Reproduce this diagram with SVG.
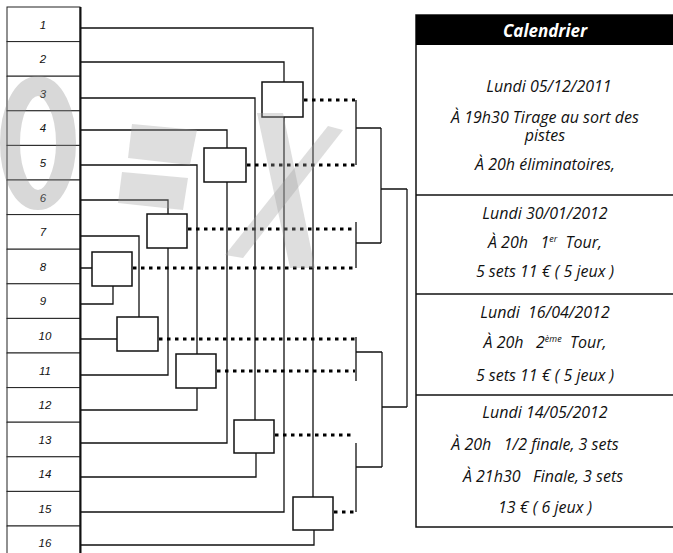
<svg xmlns="http://www.w3.org/2000/svg" width="673" height="553" viewBox="0 0 673 553">
<style>
.cell{fill:#fff;stroke:#222;stroke-width:1}
.num{font-family:"Liberation Sans",Arial,sans-serif;font-style:italic;font-size:11.5px;fill:#111;text-anchor:middle}
.ln{fill:none;stroke:#111;stroke-width:1.3}
.box{fill:#fff;stroke:#111;stroke-width:1.5}
.dot{fill:none;stroke:#000;stroke-width:3.2;stroke-dasharray:3.5 4.5}
.cal{font-family:"Open Sans",Lato,sans-serif;font-style:italic;font-size:16px;fill:#111;text-anchor:middle;white-space:pre}
.sup{font-size:9px}
.wm{fill:#a0a0a0;opacity:0.35}
</style>
<g id="players">
<rect class="cell" x="7" y="7" width="73" height="34.6"/>
<rect class="cell" x="7" y="41.6" width="73" height="34.6"/>
<rect class="cell" x="7" y="76.2" width="73" height="34.6"/>
<rect class="cell" x="7" y="110.8" width="73" height="34.6"/>
<rect class="cell" x="7" y="145.4" width="73" height="34.6"/>
<rect class="cell" x="7" y="180" width="73" height="34.6"/>
<rect class="cell" x="7" y="214.6" width="73" height="34.6"/>
<rect class="cell" x="7" y="249.2" width="73" height="34.6"/>
<rect class="cell" x="7" y="283.8" width="73" height="34.6"/>
<rect class="cell" x="7" y="318.4" width="73" height="34.6"/>
<rect class="cell" x="7" y="353" width="73" height="34.6"/>
<rect class="cell" x="7" y="387.6" width="73" height="34.6"/>
<rect class="cell" x="7" y="422.2" width="73" height="34.6"/>
<rect class="cell" x="7" y="456.8" width="73" height="34.6"/>
<rect class="cell" x="7" y="491.4" width="73" height="34.6"/>
<rect class="cell" x="7" y="526" width="73" height="34.6"/>
<line x1="80.5" y1="7" x2="80.5" y2="553" stroke="#111" stroke-width="2"/>
<text class="num" x="43" y="29">1</text>
<text class="num" x="43" y="63">2</text>
<text class="num" x="43" y="98">3</text>
<text class="num" x="43" y="132">4</text>
<text class="num" x="43" y="167">5</text>
<text class="num" x="43" y="202">6</text>
<text class="num" x="43" y="236">7</text>
<text class="num" x="43" y="271">8</text>
<text class="num" x="43" y="305">9</text>
<text class="num" x="45" y="340">10</text>
<text class="num" x="45" y="375">11</text>
<text class="num" x="45" y="409">12</text>
<text class="num" x="45" y="444">13</text>
<text class="num" x="45" y="478">14</text>
<text class="num" x="45" y="513">15</text>
<text class="num" x="45" y="547">16</text>
</g>
<g id="connectors">
<path class="ln" d="M81,28 H313 V497 M314,530 V545 H81"/>
<path class="ln" d="M81,62 H284 V82 M284,117 V512 H81"/>
<path class="ln" d="M81,98 H255 V420 M256,453 V477 H81"/>
<path class="ln" d="M81,130 H227 V148 M227,182 V443 H81"/>
<path class="ln" d="M81,165 H197 V354 M197,388 V410 H81"/>
<path class="ln" d="M81,200 H168 V214 M168,248 V375 H81"/>
<path class="ln" d="M81,236 H139 V317 M81,339 H117"/>
<path class="ln" d="M81,268 H92 M113,286 V304 H81"/>
<path class="dot" d="M304,100 H355"/>
<path class="dot" d="M247,165 H355"/>
<path class="dot" d="M188,229 H355"/>
<path class="dot" d="M133,268 H355"/>
<path class="dot" d="M159,339 H355"/>
<path class="dot" d="M217,371 H355"/>
<path class="dot" d="M275,435 H355"/>
<path class="dot" d="M334,512 H355"/>
<path class="ln" d="M356,100 V165 M356,128 H381"/>
<path class="ln" d="M356,222 V268 M356,243 H381"/>
<path class="ln" d="M381,128 V243 M381,189 H407"/>
<path class="ln" d="M356,337 V381 M356,352 H382"/>
<path class="ln" d="M356,443 V512 M356,467 H382"/>
<path class="ln" d="M382,352 V467 M382,407 H407"/>
<path class="ln" d="M407,189 V407"/>
</g>
<g id="match-A"><rect class="box" x="262" y="82" width="41" height="35"/></g>
<g id="match-B"><rect class="box" x="204" y="148" width="42" height="34"/></g>
<g id="match-C"><rect class="box" x="147" y="214" width="40" height="34"/></g>
<g id="match-G"><rect class="box" x="92" y="252" width="40" height="34"/></g>
<g id="match-D"><rect class="box" x="117" y="317" width="41" height="34"/></g>
<g id="match-E"><rect class="box" x="176" y="354" width="40" height="34"/></g>
<g id="match-H"><rect class="box" x="234" y="420" width="40" height="33"/></g>
<g id="match-F"><rect class="box" x="293" y="497" width="40" height="33"/></g>
<g id="watermark">
<ellipse cx="38" cy="143" rx="28" ry="57" fill="none" stroke="#909090" stroke-width="20" opacity="0.35"/>
<polygon class="wm" points="132,124 197,130 190,165 128,158"/>
<polygon class="wm" points="122,172 188,178 183,210 118,203"/>
<polygon class="wm" points="257,113 283,113 315,268 290,268" opacity="0.3"/>
<polygon class="wm" points="328,126 343,130 243,258 225,255" opacity="0.25"/>
</g>
<g id="calendrier">
<rect x="416" y="15" width="259" height="512" fill="#fff" stroke="#111" stroke-width="1.5"/>
<rect x="416" y="15" width="259" height="30" fill="#000"/>
<text x="545" y="37" class="cal" style="font-weight:bold;font-size:17px;fill:#fff">Calendrier</text>
<line x1="416" y1="195" x2="675" y2="195" stroke="#111" stroke-width="1.5"/>
<line x1="416" y1="294" x2="675" y2="294" stroke="#111" stroke-width="1.5"/>
<line x1="416" y1="395" x2="675" y2="395" stroke="#111" stroke-width="1.5"/>
<text class="cal" x="549" y="92">Lundi 05/12/2011</text>
<text class="cal" x="545" y="123">À 19h30 Tirage au sort des</text>
<text class="cal" x="545" y="140.5">pistes</text>
<text class="cal" x="545" y="170">À 20h éliminatoires,</text>
<text class="cal" x="545" y="219">Lundi 30/01/2012</text>
<text class="cal" x="545" y="248">À 20h   1<tspan class="sup" dy="-6">er</tspan><tspan dy="6">  Tour,</tspan></text>
<text class="cal" x="545" y="277">5 sets 11 € ( 5 jeux )</text>
<text class="cal" x="545" y="318">Lundi  16/04/2012</text>
<text class="cal" x="545" y="348">À 20h   2<tspan class="sup" dy="-6">ème</tspan><tspan dy="6">  Tour,</tspan></text>
<text class="cal" x="545" y="381">5 sets 11 € ( 5 jeux )</text>
<text class="cal" x="545" y="418">Lundi 14/05/2012</text>
<text class="cal" x="535" y="450">À 20h   1/2 finale, 3 sets</text>
<text class="cal" x="543" y="482">À 21h30   Finale, 3 sets</text>
<text class="cal" x="545" y="513">13 € ( 6 jeux )</text>
</g>
</svg>
